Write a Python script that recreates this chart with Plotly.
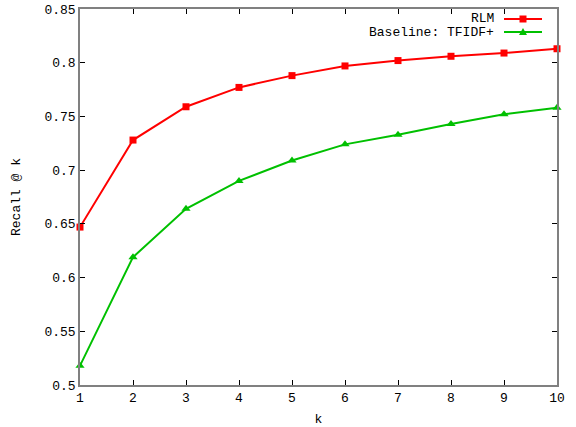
import plotly.graph_objects as go

k = [1, 2, 3, 4, 5, 6, 7, 8, 9, 10]
rlm = [0.647, 0.728, 0.759, 0.777, 0.788, 0.797, 0.802, 0.806, 0.809, 0.813]
tfidf = [0.518, 0.619, 0.664, 0.690, 0.709, 0.724, 0.733, 0.743, 0.752, 0.758]
series_names = ["RLM", "Baseline: TFIDF+"]
y_ticks = [0.5, 0.55, 0.6, 0.65, 0.7, 0.75, 0.8, 0.85]
y_tick_labels = ["0.5", "0.55", "0.6", "0.65", "0.7", "0.75", "0.8", "0.85"]

RED = "#ff0000"
GREEN = "#00c000"
AXIS = "#808080"
FONT = "Liberation Mono"

fig = go.Figure()
fig.add_trace(go.Scatter(x=k, y=rlm, mode="lines+markers", name=series_names[0],
                         line=dict(color=RED, width=2),
                         marker=dict(symbol="square", size=7, color=RED), cliponaxis=False))
fig.add_trace(go.Scatter(x=k, y=tfidf, mode="lines+markers", name=series_names[1],
                         line=dict(color=GREEN, width=2),
                         marker=dict(symbol="triangle-up", size=8, color=GREEN), cliponaxis=False))

axis_common = dict(showline=True, linecolor=AXIS, linewidth=1.5, mirror="ticks",
                   ticks="inside", ticklen=5, tickcolor="black", tickwidth=1,
                   showgrid=False, zeroline=False, automargin=False,
                   tickfont=dict(family=FONT, size=13, color="black"))

fig.update_xaxes(range=[1, 10], tickvals=k, ticktext=[str(v) for v in k],
                 title=dict(text="k", font=dict(family=FONT, size=13, color="black"), standoff=9),
                 **axis_common)
fig.update_yaxes(range=[0.5, 0.85], tickvals=y_ticks, ticktext=y_tick_labels,
                 title=dict(text="Recall @ k", font=dict(family=FONT, size=13, color="black"), standoff=21),
                 **axis_common)

# gnuplot-style legend: text right-aligned, sample to the right
legend_rows = [(series_names[0], RED, "square", 19), (series_names[1], GREEN, "triangle", 32)]
W, H = 576, 427
L, R, T, B = 80, 19, 9, 42
pw, ph = W - L - R, H - T - B

def px_to_paper(xp, yp):
    return (xp - L) / pw, 1 - (yp - T) / ph

for name, col, sym, yp in legend_rows:
    tx, ty = px_to_paper(496, yp)
    fig.add_annotation(x=tx, y=ty, xref="paper", yref="paper", text=name, showarrow=False,
                       xanchor="right", yanchor="middle",
                       font=dict(family=FONT, size=13, color="black"))
    x0, y0 = px_to_paper(504, yp)
    x1, _ = px_to_paper(542, yp)
    fig.add_shape(type="line", xref="paper", yref="paper", x0=x0, x1=x1, y0=y0, y1=y0,
                  line=dict(color=col, width=2))
    if sym == "square":
        a0, b0 = px_to_paper(519.5, yp - 3.5)
        a1, b1 = px_to_paper(526.5, yp + 3.5)
        fig.add_shape(type="rect", xref="paper", yref="paper", x0=a0, x1=a1, y0=b1, y1=b0,
                      fillcolor=col, line=dict(width=0))
    else:
        p1 = px_to_paper(523, yp - 4)
        p2 = px_to_paper(519, yp + 3)
        p3 = px_to_paper(527, yp + 3)
        path = f"M {p1[0]},{p1[1]} L {p2[0]},{p2[1]} L {p3[0]},{p3[1]} Z"
        fig.add_shape(type="path", xref="paper", yref="paper", path=path,
                      fillcolor=col, line=dict(width=0))

fig.update_layout(width=W, height=H, margin=dict(l=L, r=R, t=T, b=B),
                  plot_bgcolor="white", paper_bgcolor="white", showlegend=False,
                  hovermode=False,
                  font=dict(family=FONT, size=13, color="black"))

fig.write_html("out.html", config={"displayModeBar": False},
               post_script="document.body.style.margin='0';document.body.style.overflow='hidden';")
